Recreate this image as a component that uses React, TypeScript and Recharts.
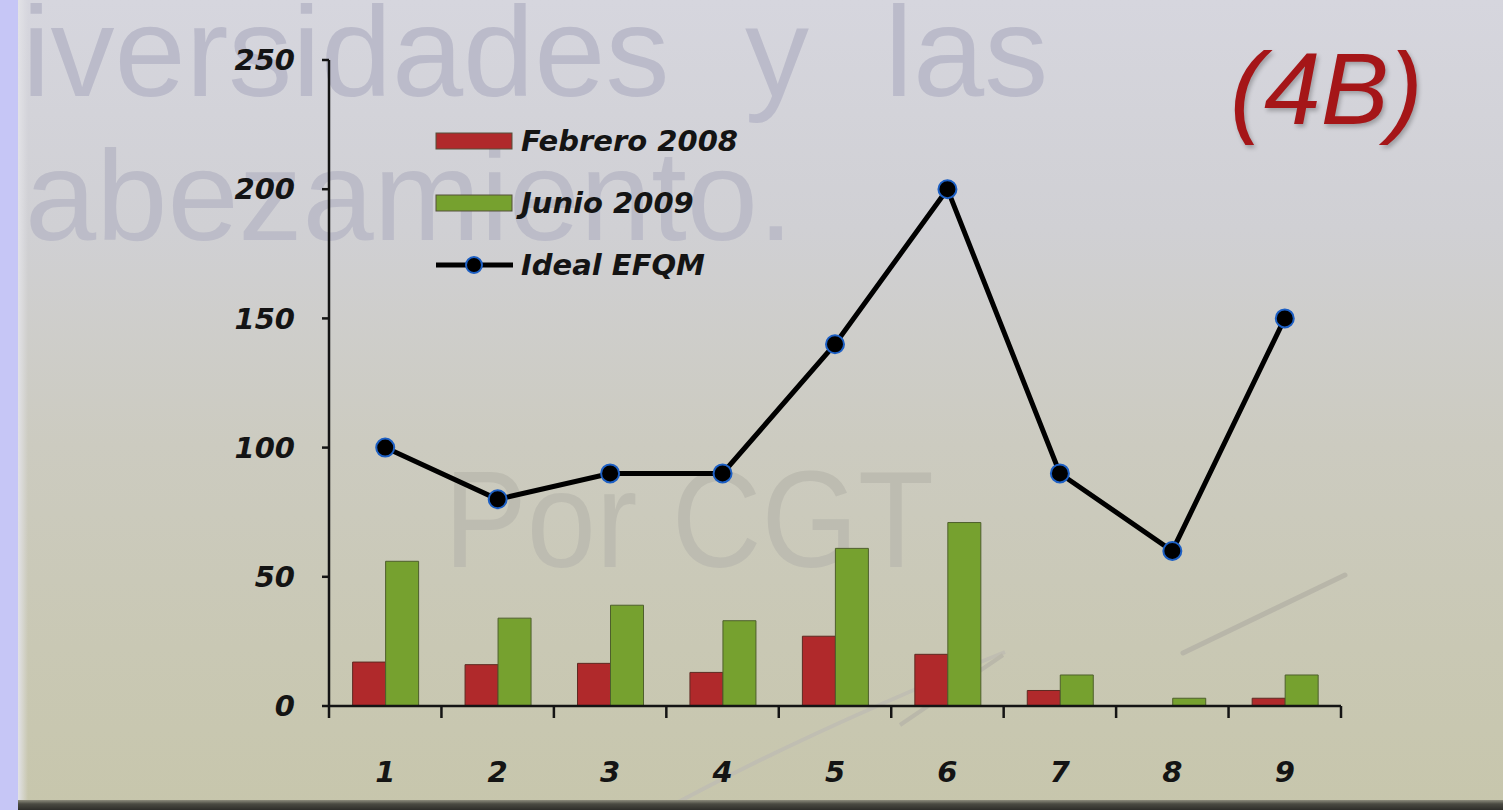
import { Bar, ComposedChart, Legend, Line, XAxis, YAxis } from "recharts";

// values (EFQM criteria 1..9)
const categories = ["1", "2", "3", "4", "5", "6", "7", "8", "9"];
const febrero2008 = [17, 16, 16.5, 13, 27, 20, 6, 0, 3];
const junio2009 = [56, 34, 39, 33, 61, 71, 12, 3, 12];
const idealEfqm = [100, 80, 90, 90, 140, 200, 90, 60, 150];
const yTicks = [0, 50, 100, 150, 200, 250];

const seriesNames = ["Febrero 2008", "Junio 2009", "Ideal EFQM"];

const data = categories.map((name, i) => ({
  name,
  feb: febrero2008[i],
  jun: junio2009[i],
  ideal: idealEfqm[i],
}));

const FONT = '"DejaVu Sans", Verdana, sans-serif';
const INK = "#141414";

function CategoryTick(props: any) {
  const { x, y, payload, index, visibleTicksCount } = props;
  const count = visibleTicksCount ?? categories.length;
  const band = (props.width ?? 1012) / count;
  const left = x - band / 2;
  const right = x + band / 2;
  return (
    <g>
      <line x1={left} x2={left} y1={y} y2={y + 12} stroke={INK} strokeWidth={2.5} />
      {index === count - 1 && (
        <line x1={right} x2={right} y1={y} y2={y + 12} stroke={INK} strokeWidth={2.5} />
      )}
      <text
        x={x}
        y={y + 76}
        textAnchor="middle"
        fill={INK}
        fontFamily={FONT}
        fontSize={29}
        fontStyle="italic"
        fontWeight="bold"
      >
        {payload.value}
      </text>
    </g>
  );
}

function LegendContent({ payload }: any) {
  const items = [...(payload ?? [])].sort(
    (a: any, b: any) => seriesNames.indexOf(a.value) - seriesNames.indexOf(b.value)
  );
  return (
    <div>
      {items.map((entry: any) => (
        <div
          key={entry.value}
          style={{ display: "flex", alignItems: "center", height: 62 }}
        >
          <svg width={80} height={24} style={{ display: "block" }}>
            {entry.type === "line" ? (
              <>
                <line x1={1} x2={78} y1={12} y2={12} stroke="#000" strokeWidth={5} />
                <circle cx={39} cy={12} r={8} fill="#000" stroke="#1c5fc4" strokeWidth={2} />
              </>
            ) : (
              <rect x={1} y={4} width={76} height={16} fill={entry.color} stroke="#55503a" strokeWidth={1} />
            )}
          </svg>
          <span
            style={{
              marginLeft: 6,
              fontFamily: FONT,
              fontSize: 29,
              fontStyle: "italic",
              fontWeight: "bold",
              color: INK,
              whiteSpace: "nowrap",
            }}
          >
            {entry.value}
          </span>
        </div>
      ))}
    </div>
  );
}

const watermark: React.CSSProperties = {
  position: "absolute",
  fontFamily: '"Liberation Sans", Arial, sans-serif',
  fontSize: 128,
  lineHeight: 1,
  whiteSpace: "nowrap",
};

export default function App() {
  return (
    <div
      style={{
        position: "absolute",
        left: 0,
        top: 0,
        width: 1503,
        height: 810,
        overflow: "hidden",
        background:
          "linear-gradient(180deg, #d6d6de 0%, #d0d0d4 28%, #cccbc0 55%, #c9c8b4 80%, #c7c6ac 100%)",
      }}
    >
      {/* slide watermark text behind the chart */}
      <div style={{ ...watermark, left: 22, top: -12, color: "#bbbbca", wordSpacing: 40 }}>
        iversidades y las
      </div>
      <div style={{ ...watermark, left: 25, top: 132, color: "#bcbcc8" }}>abezamiento.</div>
      <div
        style={{
          ...watermark,
          left: 444,
          top: 450,
          fontSize: 138,
          color: "#bdbcb1",
          transform: "scaleX(0.9)",
          transformOrigin: "0 0",
        }}
      >
        Por CGT
      </div>

      <svg
        width={1503}
        height={810}
        style={{ position: "absolute", left: 0, top: 0 }}
      >
        <path d="M1183 653 L1345 575" stroke="#b8b6a9" strokeWidth={5} strokeLinecap="round" fill="none" />
        <path d="M660 812 Q800 735 1005 652" stroke="#c0beb2" strokeWidth={4} fill="none" />
        <path d="M900 725 L1003 655" stroke="#bab8aa" strokeWidth={4} fill="none" />
      </svg>

      {/* left lavender strip and bottom edge */}
      <div
        style={{
          position: "absolute",
          left: 0,
          top: 0,
          width: 18,
          height: 810,
          background: "#c6c6f6",
        }}
      />
      <div
        style={{
          position: "absolute",
          left: 18,
          top: 0,
          width: 10,
          height: 810,
          background: "linear-gradient(90deg, #e2e2e6, rgba(220,220,220,0))",
        }}
      />
      <div
        style={{
          position: "absolute",
          left: 18,
          top: 800,
          width: 1485,
          height: 10,
          background: "linear-gradient(180deg, #8c8b7c 0%, #4a4a42 40%, #2e2e2a 100%)",
        }}
      />

      <div style={{ position: "absolute", left: 0, top: 0 }}>
        <ComposedChart
          width={1503}
          height={810}
          data={data}
          margin={{ top: 60, right: 162, bottom: 0, left: 0 }}
          barCategoryGap="21%"
          barGap={0}
        >
          <XAxis
            dataKey="name"
            height={104}
            tickLine={false}
            tickSize={0}
            tickMargin={0}
            axisLine={{ stroke: INK, strokeWidth: 2.5 }}
            tick={<CategoryTick />}
            interval={0}
          />
          <YAxis
            width={329}
            domain={[0, 250]}
            ticks={yTicks}
            tickSize={7}
            tickMargin={27}
            axisLine={{ stroke: INK, strokeWidth: 2.5 }}
            tickLine={{ stroke: INK, strokeWidth: 2.5 }}
            tick={{
              fill: INK,
              fontFamily: FONT,
              fontSize: 29,
              fontStyle: "italic",
              fontWeight: "bold",
            }}
          />
          <Legend
            layout="vertical"
            align="center"
            verticalAlign="middle"
            content={<LegendContent />}
            wrapperStyle={{ left: 435, top: 110, width: 420 }}
          />
          <Bar
            dataKey="feb"
            name="Febrero 2008"
            fill="#b0292b"
            stroke="#5e2a22"
            strokeWidth={1}
            legendType="rect"
            isAnimationActive={false}
          />
          <Bar
            dataKey="jun"
            name="Junio 2009"
            fill="#76a12f"
            stroke="#4e5f2c"
            strokeWidth={1}
            legendType="rect"
            isAnimationActive={false}
          />
          <Line
            type="linear"
            dataKey="ideal"
            name="Ideal EFQM"
            stroke="#000"
            strokeWidth={5}
            dot={{ r: 9, fill: "#000", stroke: "#1c5fc4", strokeWidth: 2 }}
            legendType="line"
            isAnimationActive={false}
          />
        </ComposedChart>
      </div>

      <div
        style={{
          position: "absolute",
          left: 1230,
          top: 38,
          fontFamily: '"Liberation Sans", Arial, sans-serif',
          fontStyle: "italic",
          fontSize: 102,
          lineHeight: 1,
          color: "#a51618",
          textShadow: "2px 3px 4px rgba(0,0,0,0.25)",
          whiteSpace: "nowrap",
        }}
      >
        (4B)
      </div>
    </div>
  );
}
